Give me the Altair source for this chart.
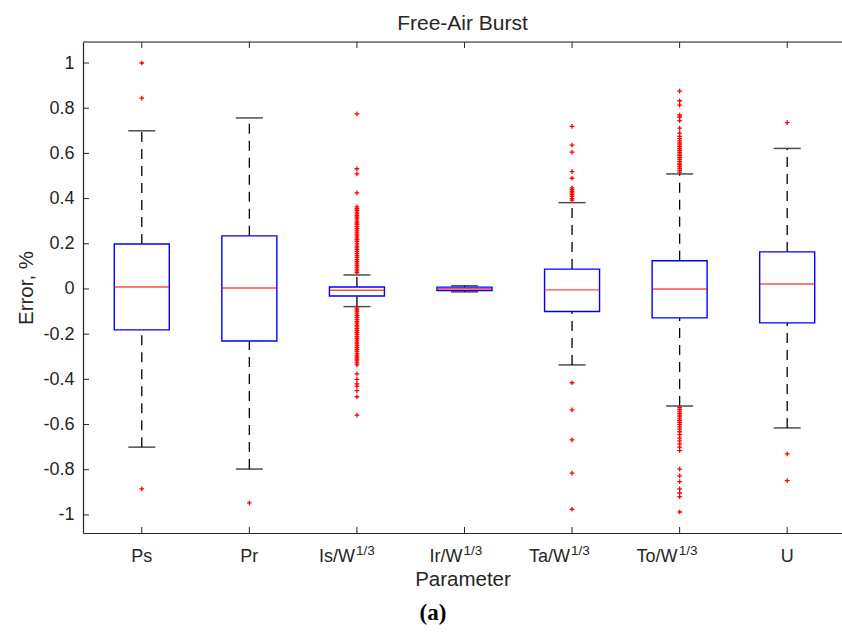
import altair as alt
import pandas as pd

# ---------------- data ----------------
categories = ["Ps", "Pr", "Is/W", "Ir/W", "Ta/W", "To/W", "U"]
superscripts = ["", "", "1/3", "1/3", "1/3", "1/3", ""]

q1 = [-0.181, -0.230, -0.031, -0.007, -0.100, -0.128, -0.150]
median = [0.009, 0.004, -0.006, 0.001, -0.004, 0.000, 0.022]
q3 = [0.199, 0.235, 0.009, 0.008, 0.088, 0.125, 0.164]
whisker_low = [-0.700, -0.797, -0.078, -0.013, -0.336, -0.518, -0.615]
whisker_high = [0.700, 0.757, 0.062, 0.014, 0.382, 0.509, 0.622]

out_ps = [1.0, 0.845, -0.885]
out_pr = [-0.947]
out_is = [0.775, 0.532, 0.509, 0.425, 0.363, 0.355, 0.348, 0.340, 0.332, 0.325,
          0.318, 0.310, 0.300, 0.292, 0.285, 0.276, 0.268, 0.260, 0.252, 0.243,
          0.235, 0.226, 0.218, 0.210, 0.200, 0.190, 0.182, 0.174, 0.165, 0.156,
          0.148, 0.140, 0.130, 0.122, 0.114, 0.105, 0.097, 0.088, 0.080, 0.072,
          -0.085, -0.093, -0.101, -0.110, -0.118, -0.126, -0.135, -0.143, -0.151,
          -0.160, -0.168, -0.176, -0.185, -0.193, -0.201, -0.210, -0.218, -0.226,
          -0.235, -0.243, -0.251, -0.260, -0.268, -0.276, -0.285, -0.293, -0.301,
          -0.310, -0.318, -0.327, -0.336, -0.376, -0.400, -0.420, -0.430, -0.450,
          -0.477, -0.558]
out_ir = []
out_ta = [0.720, 0.637, 0.606, 0.519, 0.490, 0.447, 0.440, 0.432, 0.425, 0.418,
          0.410, 0.400, 0.393, -0.415, -0.535, -0.668, -0.815, -0.975]
out_to = [0.876, 0.833, 0.814, 0.770, 0.761, 0.745, 0.712, 0.690, 0.675, 0.665,
          0.655, 0.646, 0.638, 0.630, 0.622, 0.614, 0.605, 0.597, 0.590, 0.582,
          0.574, 0.565, 0.557, 0.550, 0.542, 0.534, 0.525, 0.517,
          -0.525, -0.533, -0.541, -0.550, -0.558, -0.566, -0.575, -0.583, -0.591,
          -0.600, -0.610, -0.620, -0.632, -0.645, -0.660, -0.672, -0.686, -0.700,
          -0.715, -0.797, -0.827, -0.853, -0.885, -0.903, -0.919, -0.987]
out_u = [0.736, -0.730, -0.848]

y_ticks = [-1, -0.8, -0.6, -0.4, -0.2, 0, 0.2, 0.4, 0.6, 0.8, 1]

# ---------------- tables ----------------
positions = list(range(1, len(categories) + 1))
stats = pd.DataFrame({
    "pos": positions, "cat": categories, "sup": superscripts,
    "q1": q1, "median": median, "q3": q3,
    "lo": whisker_low, "hi": whisker_high,
})
outlier_lists = [out_ps, out_pr, out_is, out_ir, out_ta, out_to, out_u]
outliers = pd.DataFrame(
    [{"pos": p, "value": v} for p, vals in zip(positions, outlier_lists) for v in vals]
)
yt = pd.DataFrame({"v": y_ticks})

W, H = 759, 491
AX = "#262626"
FONT = "Liberation Sans"

x_scale = alt.Scale(domain=[0.5, 7.463], nice=False, zero=False)
y_scale = alt.Scale(domain=[-1.08, 1.093], nice=False, zero=False)
x_axis = alt.Axis(title="Parameter", labels=False, ticks=False, grid=False,
                  domainColor=AX, domainWidth=1.2, titleFont=FONT, titleFontSize=20.5,
                  titleFontWeight="normal", titleColor=AX, titlePadding=36)
y_axis = alt.Axis(title="Error, %", values=y_ticks, ticks=False, grid=False,
                  domainColor=AX, domainWidth=1.2, labelFont=FONT, labelFontSize=18,
                  labelColor=AX, labelPadding=9,
                  labelExpr="toString(round(datum.value*10)/10)",
                  titleFont=FONT, titleFontSize=20.5, titleFontWeight="normal",
                  titleColor=AX, titlePadding=6)

X = alt.X("pos:Q", scale=x_scale, axis=x_axis)


def Y(field):
    return alt.Y(f"{field}:Q", scale=y_scale, axis=y_axis)


base = alt.Chart(stats)

whisk_up = base.mark_rule(color="black", strokeWidth=1.3, strokeDash=[10, 7]).encode(
    x=X, y=Y("q3"), y2="hi")
whisk_dn = base.mark_rule(color="black", strokeWidth=1.3, strokeDash=[10, 7]).encode(
    x=X, y=Y("lo"), y2="q1")
cap_hi = base.mark_tick(color="black", orient="horizontal", size=27, thickness=1.5).encode(
    x=X, y=Y("hi"))
cap_lo = base.mark_tick(color="black", orient="horizontal", size=27, thickness=1.5).encode(
    x=X, y=Y("lo"))
box = base.mark_bar(size=55, fill="white", fillOpacity=0, stroke="#0000ff",
                    strokeWidth=1.4).encode(x=X, y=Y("q1"), y2="q3")
med = base.mark_tick(color="#ff0000", orient="horizontal", size=55, thickness=1.4).encode(
    x=X, y=Y("median"))
pts = alt.Chart(outliers).mark_point(
    shape="M-1,0L1,0M0,-1L0,1", filled=False, color="#ff0000", size=22, strokeWidth=1.3,
    opacity=1).encode(x=X, y=Y("value"))

# frame pieces (top border, inward ticks)
top_border = alt.Chart(pd.DataFrame({"a": [0]})).mark_rule(color=AX, strokeWidth=1.2).encode(
    x=alt.value(0), x2=alt.value(W), y=alt.value(0))
top_ticks = base.mark_rule(color=AX, strokeWidth=1).encode(
    x=X, y=alt.value(0), y2=alt.value(6))
bot_ticks = base.mark_rule(color=AX, strokeWidth=1).encode(
    x=X, y=alt.value(H), y2=alt.value(H - 6))
left_ticks = alt.Chart(yt).mark_rule(color=AX, strokeWidth=1).encode(
    y=Y("v"), x=alt.value(0), x2=alt.value(6))

# category labels (with superscripts)
lab_plain = base.transform_filter("datum.sup == ''").mark_text(
    font=FONT, fontSize=18, color=AX, align="center", baseline="alphabetic").encode(
    x=X, y=alt.value(H + 29), text="cat:N")
lab_base = base.transform_filter("datum.sup != ''").mark_text(
    font=FONT, fontSize=18, color=AX, align="right", baseline="alphabetic", dx=-2).encode(
    x=X, y=alt.value(H + 29), text="cat:N")
lab_sup = base.transform_filter("datum.sup != ''").mark_text(
    font=FONT, fontSize=13.5, color=AX, align="left", baseline="alphabetic", dx=-1).encode(
    x=X, y=alt.value(H + 22), text="sup:N")

caption = alt.Chart(pd.DataFrame({"t": ["(a)"]})).mark_text(
    font="Liberation Serif", fontSize=23, fontWeight="bold", color="black",
    align="center", baseline="alphabetic").encode(
    x=alt.value(350), y=alt.value(H + 87), text="t:N")

chart = alt.layer(
    whisk_up, whisk_dn, cap_hi, cap_lo, box, med, pts,
    top_border, top_ticks, bot_ticks, left_ticks,
    lab_plain, lab_base, lab_sup, caption,
).properties(
    width=W, height=H,
    padding={"left": 83, "top": 42, "right": 0, "bottom": 106},
    autosize=alt.AutoSizeParams(type="none"),
    title=alt.TitleParams("Free-Air Burst", font=FONT, fontSize=21, fontWeight="normal",
                          color=AX, offset=7),
).configure_view(stroke=None).configure(background="white")

chart.save("out.html", embed_options={"renderer": "svg", "actions": False})
